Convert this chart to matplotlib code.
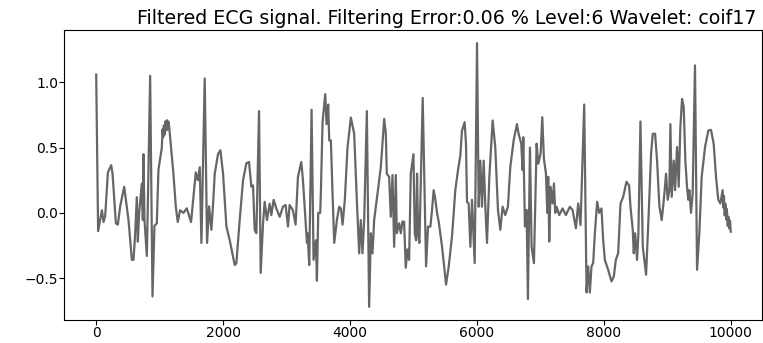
import matplotlib
matplotlib.use("Agg")
import matplotlib.pyplot as plt

# Filtered ECG trace: sample index and amplitude at the turning points of the waveform
samples = [
    0, 30, 90, 116, 142, 184, 236, 258, 310, 341, 378, 441, 509, 562, 588, 614, 640, 656, 677, 719,
    735, 745, 761, 798, 813, 850, 887, 918, 955, 981,
    1034, 1046, 1056, 1066, 1078, 1090, 1102, 1114, 1126, 1138, 1150, 1165,
    1217, 1254,
    1285, 1322, 1375, 1427, 1495, 1569, 1600, 1632, 1658, 1710, 1747, 1779, 1815, 1842, 1868, 1920,
    1957, 1999, 2052, 2104, 2183, 2209, 2261, 2314, 2366, 2408, 2445, 2471, 2497, 2524, 2566, 2592,
    2629, 2655, 2691, 2733, 2760, 2796, 2838, 2891, 2943, 2985, 3022, 3048, 3100, 3142, 3179, 3232,
    3258, 3284, 3321, 3331, 3357, 3394, 3425, 3462, 3478, 3499, 3530, 3541, 3567, 3609, 3630, 3656,
    3672, 3698, 3724, 3751, 3793, 3829, 3856, 3882, 3918, 3960, 4013, 4065, 4107, 4144, 4170, 4196,
    4223, 4265, 4301, 4328, 4354, 4380, 4433, 4485, 4538, 4564, 4579, 4616, 4642, 4669, 4695, 4721,
    4737, 4774, 4800, 4826, 4852, 4878, 4905, 4931, 4957, 4999, 5020, 5041, 5056, 5072, 5093, 5145,
    5198, 5229, 5266, 5292, 5318, 5345, 5371, 5397, 5450, 5513, 5555, 5607, 5659, 5701, 5738, 5764,
    5806, 5827, 5843, 5869, 5896, 5922, 5964, 6001, 6027, 6053, 6079, 6106, 6132, 6158, 6195, 6247,
    6289, 6331, 6368, 6404, 6446, 6488, 6525, 6578, 6630, 6656, 6698, 6719, 6730, 6756, 6782, 6803,
    6835, 6861, 6898, 6940, 6966, 7003, 7029, 7055, 7087, 7108, 7123, 7139, 7160, 7192, 7213, 7234,
    7255, 7296, 7349, 7401, 7464, 7506, 7559, 7595, 7632, 7690, 7727, 7753, 7779, 7805, 7831, 7858,
    7894, 7926, 7962, 7989, 8015, 8067, 8120, 8157, 8188, 8225, 8262, 8304, 8356, 8398, 8419, 8455,
    8471, 8492, 8523, 8544, 8576, 8613, 8665, 8702, 8744, 8770, 8807, 8838, 8875, 8912, 8954, 8980,
    9006, 9032, 9048, 9069, 9101, 9122, 9153, 9179, 9205, 9232, 9258, 9284, 9310, 9331, 9347, 9373,
    9399, 9436, 9468, 9504, 9541, 9594, 9646, 9688, 9730, 9767, 9803, 9835,
    9872, 9882, 9892, 9904, 9914, 9928, 9938, 9952, 9962, 9978, 9988, 9999,
]
amplitude = [
    1.06, -0.14, 0.02, -0.07, -0.02, 0.31, 0.365, 0.30, -0.08, -0.09, 0.05, 0.20, -0.055, -0.36, -0.36, -0.16, 0.12, -0.22, 0.0, 0.225,
    -0.055, 0.45, -0.055, -0.33, 0.05, 1.05, -0.64, -0.10, -0.08, 0.33,
    0.50, 0.64, 0.58, 0.67, 0.60, 0.70, 0.63, 0.71, 0.64, 0.70, 0.66, 0.58,
    0.30, 0.05,
    -0.07, 0.02, 0.0, 0.035, -0.07, 0.31, 0.25, 0.35, -0.23, 1.03, -0.23, 0.05, -0.13, 0.07, 0.30, 0.45,
    0.48, 0.30, -0.105, -0.21, -0.40, -0.385, -0.055, 0.25, 0.38, 0.39, 0.20, 0.21, -0.13, -0.156, 0.78, -0.46,
    -0.08, 0.085, -0.055, 0.07, -0.017, 0.10, 0.034, -0.03, 0.047, 0.06, -0.105, 0.06, 0.02, -0.09, 0.276, 0.39,
    0.25, 0.047, -0.23, -0.156, -0.40, 0.79, -0.36, -0.21, -0.52, 0.0, 0.0, 0.17, 0.695, 0.91, 0.68, 0.83,
    0.555, 0.555, 0.15, -0.23, -0.055, 0.047, 0.034, -0.09, 0.10, 0.50, 0.73, 0.606, 0.10, -0.31, -0.055, -0.31,
    -0.055, 0.78, -0.72, -0.156, -0.31, -0.055, 0.15, 0.35, 0.72, 0.606, 0.30, 0.276, -0.03, 0.29, -0.26, 0.29,
    -0.156, -0.08, -0.156, -0.067, -0.067, -0.42, -0.28, -0.36, 0.30, 0.45, -0.156, -0.21, 0.30, -0.156, -0.23, 0.88,
    -0.41, -0.105, -0.105, 0.022, 0.174, 0.10, 0.0, -0.067, -0.26, -0.55, -0.41, -0.18, 0.174, 0.327, 0.44, 0.63,
    0.695, 0.53, 0.085, 0.072, -0.26, 0.10, -0.385, 1.30, 0.047, 0.40, 0.047, 0.40, 0.047, -0.23, 0.276, 0.708,
    0.50, 0.022, -0.13, 0.047, -0.017, 0.047, 0.35, 0.555, 0.68, 0.606, 0.53, 0.327, 0.58, -0.105, 0.022, -0.66,
    0.50, -0.26, -0.385, 0.53, 0.377, 0.454, 0.733, 0.415, 0.30, 0.0, 0.276, -0.22, 0.20, 0.072, 0.225, 0.0,
    0.047, -0.017, 0.034, -0.017, 0.047, 0.022, -0.118, 0.072, -0.093, 0.83, -0.61, -0.41, -0.61, -0.41, -0.385, -0.156,
    0.085, 0.0, 0.034, -0.21, -0.36, -0.436, -0.525, -0.486, -0.36, -0.31, 0.072, 0.123, 0.238, 0.21, 0.047, -0.13,
    -0.31, -0.156, -0.36, -0.156, 0.70, -0.26, -0.474, -0.055, 0.454, 0.606, 0.606, 0.40, 0.047, -0.055, 0.149, 0.30,
    0.10, 0.174, 0.68, 0.123, 0.40, 0.174, 0.504, 0.20, 0.657, 0.873, 0.81, 0.40, 0.20, 0.10, 0.174, 0.0,
    0.149, 1.13, -0.436, -0.156, 0.276, 0.504, 0.631, 0.636, 0.53, 0.276, 0.10, 0.072,
    0.174, 0.04, 0.13, -0.02, 0.07, -0.05, 0.03, -0.10, -0.03, -0.12, -0.06, -0.144,
]

title_text = "Filtered ECG signal. Filtering Error:0.06 % Level:6 Wavelet: coif17"

fig = plt.figure(figsize=(7.63, 3.43), dpi=100)
ax = fig.add_axes([0.0845, 0.067, 0.9148, 0.8455])
ax.plot(samples, amplitude, color="#666666", linewidth=1.6)
ax.set_title(title_text, fontsize=13.7, x=0.548, pad=4)
ax.tick_params(labelsize=10, pad=1)
ax.set_xticks([0, 2000, 4000, 6000, 8000, 10000])
ax.set_yticks([-0.5, 0.0, 0.5, 1.0])

fig.savefig("out.png", dpi=100)
